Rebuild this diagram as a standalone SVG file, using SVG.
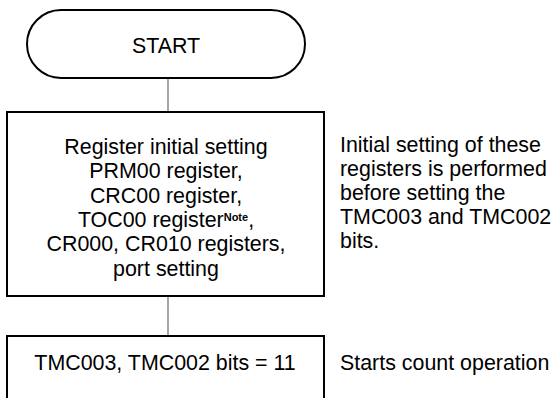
<svg xmlns="http://www.w3.org/2000/svg" width="556" height="398" viewBox="0 0 556 398">
<style>
.box{fill:#fff;stroke:#000;stroke-width:2}
.conn{stroke:#777;stroke-width:1.3;fill:none}
text{font-family:"Liberation Sans",Arial,sans-serif;font-size:21.4px;fill:#000}
.c{text-anchor:middle}
.sup{font-size:11px;font-weight:bold}
</style>
<g id="connectors">
<line class="conn" x1="168" y1="78" x2="168" y2="112"/>
<line class="conn" x1="168" y1="296" x2="168" y2="336"/>
</g>
<g id="start">
<rect class="box" x="27" y="10" width="278" height="68" rx="34" ry="34"/>
<text class="c" x="166" y="52.5">START</text>
</g>
<g id="init">
<rect class="box" x="7" y="112" width="317" height="184"/>
<text class="c" x="166" y="154">Register initial setting</text>
<text class="c" x="166" y="178.3">PRM00 register,</text>
<text class="c" x="166" y="202.6">CRC00 register,</text>
<text class="c" x="166" y="227">TOC00 register<tspan class="sup" dy="-6">Note</tspan><tspan dy="6">,</tspan></text>
<text class="c" x="166" y="251.3">CR000, CR010 registers,</text>
<text class="c" x="166" y="275.6">port setting</text>
</g>
<g id="init-note">
<text x="340" y="152">Initial setting of these</text>
<text x="340" y="176">registers is performed</text>
<text x="340" y="200">before setting the</text>
<text x="340" y="224">TMC003 and TMC002</text>
<text x="340" y="248">bits.</text>
</g>
<g id="tmc">
<rect class="box" x="7" y="336" width="317" height="70"/>
<text class="c" x="165" y="370">TMC003, TMC002 bits = 11</text>
</g>
<g id="tmc-note">
<text x="340" y="370">Starts count operation</text>
</g>
</svg>
